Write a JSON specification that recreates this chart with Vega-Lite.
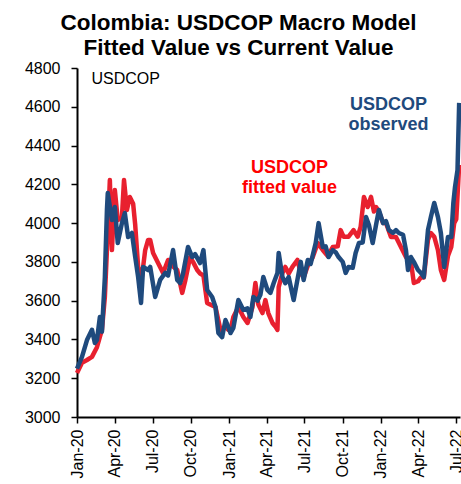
{
  "$schema": "https://vega.github.io/schema/vega-lite/v6.json",
  "autosize": "none",
  "width": 383,
  "height": 349,
  "padding": {"left": 77, "top": 68, "right": 1, "bottom": 67},
  "config": {
    "font": "Liberation Sans",
    "view": {"stroke": null},
    "axis": {"grid": false, "domainColor": "#000", "domainWidth": 2, "tickColor": "#000", "tickWidth": 1.5, "tickSize": 6, "labelColor": "#000", "labelFontSize": 16, "labelFont": "Liberation Sans"}
  },
  "title": {
    "text": ["Colombia: USDCOP Macro Model", "Fitted Value vs Current Value"],
    "fontSize": 22.5,
    "fontWeight": "bold",
    "lineHeight": 25,
    "color": "#000",
    "anchor": "middle",
    "dx": -30,
    "offset": 1
  },
  "datasets": {
    "obs": [
      {"d": "2020-01-01", "v": 3250}, {"d": "2020-01-13", "v": 3310}, {"d": "2020-01-25", "v": 3397},
      {"d": "2020-02-06", "v": 3450}, {"d": "2020-02-13", "v": 3382}, {"d": "2020-02-18", "v": 3397},
      {"d": "2020-02-25", "v": 3516}, {"d": "2020-03-01", "v": 3440}, {"d": "2020-03-08", "v": 3722},
      {"d": "2020-03-13", "v": 4068}, {"d": "2020-03-15", "v": 4155}, {"d": "2020-03-25", "v": 4016},
      {"d": "2020-04-01", "v": 4083}, {"d": "2020-04-08", "v": 3897}, {"d": "2020-04-18", "v": 4000},
      {"d": "2020-04-25", "v": 4052}, {"d": "2020-05-03", "v": 3928}, {"d": "2020-05-12", "v": 3949},
      {"d": "2020-05-20", "v": 3825}, {"d": "2020-05-27", "v": 3722}, {"d": "2020-06-03", "v": 3588},
      {"d": "2020-06-08", "v": 3774}, {"d": "2020-06-20", "v": 3758}, {"d": "2020-06-25", "v": 3774},
      {"d": "2020-07-07", "v": 3619}, {"d": "2020-07-19", "v": 3707}, {"d": "2020-07-31", "v": 3743},
      {"d": "2020-08-07", "v": 3730}, {"d": "2020-08-19", "v": 3861}, {"d": "2020-08-29", "v": 3707},
      {"d": "2020-09-05", "v": 3691}, {"d": "2020-09-12", "v": 3740}, {"d": "2020-09-24", "v": 3877},
      {"d": "2020-10-04", "v": 3825}, {"d": "2020-10-11", "v": 3840}, {"d": "2020-10-23", "v": 3794},
      {"d": "2020-10-31", "v": 3861}, {"d": "2020-11-09", "v": 3655}, {"d": "2020-11-21", "v": 3619},
      {"d": "2020-11-29", "v": 3567}, {"d": "2020-12-06", "v": 3433}, {"d": "2020-12-15", "v": 3412},
      {"d": "2020-12-23", "v": 3500}, {"d": "2020-12-30", "v": 3464}, {"d": "2021-01-04", "v": 3433},
      {"d": "2021-01-11", "v": 3460}, {"d": "2021-01-23", "v": 3603}, {"d": "2021-02-04", "v": 3552},
      {"d": "2021-02-14", "v": 3560}, {"d": "2021-02-21", "v": 3516}, {"d": "2021-02-28", "v": 3619},
      {"d": "2021-03-10", "v": 3600}, {"d": "2021-03-17", "v": 3630}, {"d": "2021-03-24", "v": 3722},
      {"d": "2021-04-03", "v": 3655}, {"d": "2021-04-10", "v": 3640}, {"d": "2021-04-18", "v": 3691},
      {"d": "2021-04-27", "v": 3743}, {"d": "2021-04-30", "v": 3846}, {"d": "2021-05-09", "v": 3722},
      {"d": "2021-05-16", "v": 3690}, {"d": "2021-05-24", "v": 3722}, {"d": "2021-06-05", "v": 3603},
      {"d": "2021-06-14", "v": 3707}, {"d": "2021-06-22", "v": 3800}, {"d": "2021-06-29", "v": 3707},
      {"d": "2021-07-09", "v": 3810}, {"d": "2021-07-16", "v": 3790}, {"d": "2021-07-28", "v": 3897},
      {"d": "2021-08-04", "v": 4000}, {"d": "2021-08-14", "v": 3877}, {"d": "2021-08-21", "v": 3880},
      {"d": "2021-08-28", "v": 3825}, {"d": "2021-09-07", "v": 3861}, {"d": "2021-09-14", "v": 3850},
      {"d": "2021-09-21", "v": 3825}, {"d": "2021-10-01", "v": 3800}, {"d": "2021-10-08", "v": 3743},
      {"d": "2021-10-15", "v": 3774}, {"d": "2021-10-25", "v": 3770}, {"d": "2021-11-01", "v": 3846},
      {"d": "2021-11-09", "v": 3897}, {"d": "2021-11-18", "v": 3900}, {"d": "2021-11-26", "v": 4031},
      {"d": "2021-12-03", "v": 3990}, {"d": "2021-12-12", "v": 3897}, {"d": "2021-12-20", "v": 3990},
      {"d": "2021-12-27", "v": 4068}, {"d": "2022-01-06", "v": 4000}, {"d": "2022-01-13", "v": 4010},
      {"d": "2022-01-20", "v": 3964}, {"d": "2022-01-30", "v": 3950}, {"d": "2022-02-06", "v": 3964},
      {"d": "2022-02-13", "v": 3949}, {"d": "2022-02-23", "v": 3940}, {"d": "2022-03-02", "v": 3861},
      {"d": "2022-03-07", "v": 3758}, {"d": "2022-03-14", "v": 3825}, {"d": "2022-03-21", "v": 3800},
      {"d": "2022-03-31", "v": 3758}, {"d": "2022-04-07", "v": 3743}, {"d": "2022-04-14", "v": 3722},
      {"d": "2022-04-24", "v": 3964}, {"d": "2022-05-01", "v": 4031}, {"d": "2022-05-09", "v": 4104},
      {"d": "2022-05-18", "v": 4031}, {"d": "2022-05-25", "v": 3949}, {"d": "2022-06-02", "v": 3774},
      {"d": "2022-06-11", "v": 3928}, {"d": "2022-06-19", "v": 3928}, {"d": "2022-06-24", "v": 4104},
      {"d": "2022-06-28", "v": 4186}, {"d": "2022-07-04", "v": 4274}, {"d": "2022-07-08", "v": 4620}
    ],
    "fit": [
      {"d": "2020-01-01", "v": 3227}, {"d": "2020-01-13", "v": 3280}, {"d": "2020-01-25", "v": 3294},
      {"d": "2020-02-06", "v": 3310}, {"d": "2020-02-18", "v": 3360}, {"d": "2020-03-01", "v": 3450},
      {"d": "2020-03-08", "v": 3619}, {"d": "2020-03-13", "v": 3861}, {"d": "2020-03-20", "v": 4222},
      {"d": "2020-03-25", "v": 3861}, {"d": "2020-04-01", "v": 4171}, {"d": "2020-04-08", "v": 4016},
      {"d": "2020-04-18", "v": 4030}, {"d": "2020-04-23", "v": 4222}, {"d": "2020-04-30", "v": 4068},
      {"d": "2020-05-07", "v": 4135}, {"d": "2020-05-15", "v": 4100}, {"d": "2020-05-20", "v": 3990},
      {"d": "2020-05-27", "v": 3774}, {"d": "2020-06-05", "v": 3722}, {"d": "2020-06-13", "v": 3861},
      {"d": "2020-06-20", "v": 3913}, {"d": "2020-06-25", "v": 3913}, {"d": "2020-07-02", "v": 3846},
      {"d": "2020-07-14", "v": 3794}, {"d": "2020-07-26", "v": 3743}, {"d": "2020-08-07", "v": 3810},
      {"d": "2020-08-17", "v": 3780}, {"d": "2020-08-29", "v": 3758}, {"d": "2020-09-10", "v": 3640},
      {"d": "2020-09-17", "v": 3700}, {"d": "2020-09-29", "v": 3825}, {"d": "2020-10-06", "v": 3800},
      {"d": "2020-10-16", "v": 3758}, {"d": "2020-10-23", "v": 3740}, {"d": "2020-10-31", "v": 3730},
      {"d": "2020-11-09", "v": 3588}, {"d": "2020-11-16", "v": 3580}, {"d": "2020-11-29", "v": 3567},
      {"d": "2020-12-11", "v": 3449}, {"d": "2020-12-23", "v": 3464}, {"d": "2020-12-30", "v": 3450},
      {"d": "2021-01-04", "v": 3449}, {"d": "2021-01-11", "v": 3516}, {"d": "2021-01-23", "v": 3567},
      {"d": "2021-02-04", "v": 3516}, {"d": "2021-02-14", "v": 3485}, {"d": "2021-02-26", "v": 3567},
      {"d": "2021-03-05", "v": 3691}, {"d": "2021-03-12", "v": 3580}, {"d": "2021-03-22", "v": 3536},
      {"d": "2021-03-29", "v": 3603}, {"d": "2021-04-05", "v": 3536}, {"d": "2021-04-15", "v": 3485},
      {"d": "2021-04-23", "v": 3464}, {"d": "2021-04-27", "v": 3449}, {"d": "2021-04-30", "v": 3670},
      {"d": "2021-05-09", "v": 3743}, {"d": "2021-05-16", "v": 3774}, {"d": "2021-05-24", "v": 3740},
      {"d": "2021-06-02", "v": 3774}, {"d": "2021-06-14", "v": 3810}, {"d": "2021-06-22", "v": 3743},
      {"d": "2021-06-29", "v": 3720}, {"d": "2021-07-09", "v": 3780}, {"d": "2021-07-21", "v": 3825},
      {"d": "2021-08-02", "v": 3897}, {"d": "2021-08-14", "v": 3861}, {"d": "2021-08-26", "v": 3830},
      {"d": "2021-09-07", "v": 3877}, {"d": "2021-09-19", "v": 3880}, {"d": "2021-09-26", "v": 3964},
      {"d": "2021-10-03", "v": 3930}, {"d": "2021-10-15", "v": 3930}, {"d": "2021-10-27", "v": 3964},
      {"d": "2021-11-06", "v": 3930}, {"d": "2021-11-13", "v": 3980}, {"d": "2021-11-21", "v": 4135},
      {"d": "2021-11-30", "v": 4083}, {"d": "2021-12-08", "v": 4135}, {"d": "2021-12-15", "v": 4060},
      {"d": "2021-12-20", "v": 4083}, {"d": "2021-12-27", "v": 4060}, {"d": "2022-01-06", "v": 4000},
      {"d": "2022-01-13", "v": 4000}, {"d": "2022-01-25", "v": 3928}, {"d": "2022-02-06", "v": 3928},
      {"d": "2022-02-18", "v": 3877}, {"d": "2022-03-02", "v": 3825}, {"d": "2022-03-14", "v": 3800},
      {"d": "2022-03-21", "v": 3691}, {"d": "2022-03-31", "v": 3700}, {"d": "2022-04-07", "v": 3720},
      {"d": "2022-04-14", "v": 3720}, {"d": "2022-04-24", "v": 3913}, {"d": "2022-05-01", "v": 3949},
      {"d": "2022-05-09", "v": 3930}, {"d": "2022-05-18", "v": 3860}, {"d": "2022-05-25", "v": 3758},
      {"d": "2022-06-02", "v": 3707}, {"d": "2022-06-11", "v": 3830}, {"d": "2022-06-19", "v": 3877},
      {"d": "2022-06-26", "v": 4000}, {"d": "2022-07-01", "v": 4020}, {"d": "2022-07-08", "v": 4300}
    ],
    "labels": [
      {"d": "2021-05-26", "v": 4284, "t": "USDCOP", "s": "fit"},
      {"d": "2021-05-26", "v": 4181, "t": "fitted value", "s": "fit"},
      {"d": "2022-01-19", "v": 4609, "t": "USDCOP", "s": "obs"},
      {"d": "2022-01-19", "v": 4506, "t": "observed", "s": "obs"}
    ]
  },
  "encoding": {
    "x": {
      "field": "d", "type": "temporal",
      "scale": {"type": "utc", "domain": ["2020-01-01", "2022-07-10"]},
      "axis": {
        "title": null, "format": "%b-%y", "labelAngle": -90, "labelPadding": 6,
        "values": [
          {"year": 2020, "month": 1, "date": 1, "utc": true}, {"year": 2020, "month": 4, "date": 1, "utc": true},
          {"year": 2020, "month": 7, "date": 1, "utc": true}, {"year": 2020, "month": 10, "date": 1, "utc": true},
          {"year": 2021, "month": 1, "date": 1, "utc": true}, {"year": 2021, "month": 4, "date": 1, "utc": true},
          {"year": 2021, "month": 7, "date": 1, "utc": true}, {"year": 2021, "month": 10, "date": 1, "utc": true},
          {"year": 2022, "month": 1, "date": 1, "utc": true}, {"year": 2022, "month": 4, "date": 1, "utc": true},
          {"year": 2022, "month": 7, "date": 1, "utc": true}
        ]
      }
    },
    "y": {
      "field": "v", "type": "quantitative",
      "scale": {"domain": [3000, 4800], "nice": false, "zero": false},
      "axis": {
        "values": [3000, 3200, 3400, 3600, 3800, 4000, 4200, 4400, 4600, 4800],
        "format": "d",
        "labelPadding": 11,
        "title": "USDCOP", "titleAngle": 0, "titleAlign": "left", "titleBaseline": "middle",
        "titleX": 14, "titleY": 10, "titleFontSize": 16, "titleFontWeight": "normal", "titleColor": "#000", "titleFont": "Liberation Sans"
      }
    }
  },
  "layer": [
    {"data": {"name": "fit"}, "mark": {"type": "line", "color": "#E8202F", "strokeWidth": 4.5, "strokeJoin": "round"}},
    {"data": {"name": "obs"}, "mark": {"type": "line", "color": "#1F4A7D", "strokeWidth": 4.5, "strokeJoin": "round"}},
    {
      "data": {"name": "labels"},
      "mark": {"type": "text", "fontSize": 18, "fontWeight": "bold", "font": "Liberation Sans", "align": "center", "baseline": "middle"},
      "encoding": {
        "text": {"field": "t"},
        "color": {"field": "s", "type": "nominal", "scale": {"domain": ["fit", "obs"], "range": ["#FF0000", "#1F4A7D"]}, "legend": null}
      }
    }
  ]
}
